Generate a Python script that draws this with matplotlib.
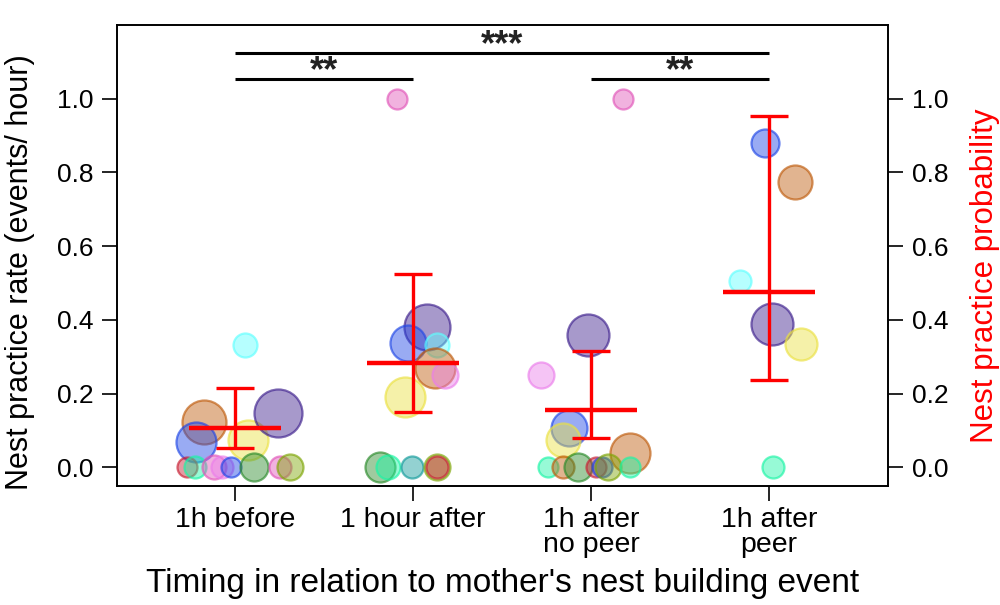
import numpy as np
import matplotlib.pyplot as plt
from matplotlib.colors import to_rgba

plt.rcParams['font.family'] = ['Liberation Sans', 'DejaVu Sans']

categories = ["1h before", "1 hour after", "1h after\nno peer", "1h after\npeer"]

# one colour per animal
animal_color = {
    "red": "#C81E32", "aqua": "#19F5A5", "cyan": "#5FFFFF", "teal": "#109A9A",
    "blue": "#1E46E6", "purple": "#3C1E8C", "orange": "#BE5A0A",
    "yellow": "#EBE141", "green": "#2A8A2A", "ygreen": "#7DA505",
    "pink": "#E155B9", "violet": "#EB7DEB",
}

# group 1: 1h before
g1_animal = ["cyan", "orange", "blue", "yellow", "purple", "red", "aqua",
             "pink", "violet", "blue", "green", "pink", "ygreen"]
g1_jitter = [0.056, -0.174, -0.219, 0.073, 0.242, -0.27, -0.225,
             -0.118, -0.073, -0.022, 0.107, 0.253, 0.309]
g1_rate = [0.331, 0.123, 0.069, 0.074, 0.147, 0, 0, 0, 0, 0, 0, 0, 0]
g1_size = [12, 22, 20, 20, 24, 10, 11, 12, 11, 10, 14, 11, 13]

# group 2: 1 hour after
g2_animal = ["purple", "blue", "cyan", "orange", "violet", "yellow", "pink",
             "green", "aqua", "teal", "ygreen", "red"]
g2_jitter = [0.079, -0.028, 0.135, 0.124, 0.18, -0.045, -0.09,
             -0.185, -0.14, -0.006, 0.135, 0.135]
g2_rate = [0.380, 0.337, 0.331, 0.269, 0.25, 0.19, 1.0, 0, 0, 0, 0, 0]
g2_size = [23, 18, 12, 20, 13, 20, 10, 15, 12, 11, 13, 11]

# group 3: 1h after, no peer
g3_animal = ["purple", "violet", "pink", "blue", "yellow", "orange", "aqua",
             "orange", "green", "red", "blue", "ygreen", "aqua"]
g3_jitter = [-0.017, -0.281, 0.18, -0.124, -0.157, 0.219, -0.242,
             -0.157, -0.073, 0.028, 0.062, 0.096, 0.219]
g3_rate = [0.359, 0.25, 1.0, 0.107, 0.074, 0.039, 0, 0, 0, 0, 0, 0, 0]
g3_size = [21, 13, 10, 18, 17, 20, 10, 11, 14, 10, 10, 13, 10]

# group 4: 1h after, peer
g4_animal = ["blue", "orange", "cyan", "purple", "yellow", "aqua"]
g4_jitter = [-0.022, 0.146, -0.163, 0.017, 0.18, 0.022]
g4_rate = [0.879, 0.773, 0.505, 0.388, 0.334, 0]
g4_size = [14, 17, 11, 21, 16, 11]

# model estimate of probability with CI
prob_mean = [0.1065, 0.283, 0.155, 0.475]
prob_lo = [0.052, 0.149, 0.079, 0.237]
prob_hi = [0.215, 0.524, 0.316, 0.952]

# significance brackets
sig_from = [1, 3, 1]
sig_to = [2, 4, 4]
sig_y = [1.052, 1.052, 1.123]
sig_text = ["**", "**", "***"]

fig = plt.figure(figsize=(10, 6.05), dpi=100)
ax = fig.add_axes([0.117, 0.197, 0.771, 0.762])

groups = [(g1_animal, g1_jitter, g1_rate, g1_size),
          (g2_animal, g2_jitter, g2_rate, g2_size),
          (g3_animal, g3_jitter, g3_rate, g3_size),
          (g4_animal, g4_jitter, g4_rate, g4_size)]

for i, (animals, jit, rate, size) in enumerate(groups):
    xpos = i + 1 + np.array(jit)
    for a, xx, yy, r in zip(animals, xpos, rate, size):
        c = animal_color[a]
        ax.scatter(xx, yy, s=(1.44 * r) ** 2, facecolor=to_rgba(c, 0.45),
                   edgecolor=to_rgba(c, 0.65), linewidth=1.6, zorder=2)

ax2 = ax.twinx()
xs = np.arange(1, 5)
ax2.vlines(xs, prob_lo, prob_hi, color="red", lw=2.4)
ax2.hlines(prob_lo, xs - 0.105, xs + 0.105, color="red", lw=2.4)
ax2.hlines(prob_hi, xs - 0.105, xs + 0.105, color="red", lw=2.4)
ax2.hlines(prob_mean, xs - 0.26, xs + 0.26, color="red", lw=3.2)

for a, b, h, t in zip(sig_from, sig_to, sig_y, sig_text):
    ax.plot([a, b], [h, h], color="black", lw=2.2, solid_capstyle="butt")
    ax.text((a + b) / 2, h - 0.006, t, ha="center", va="baseline",
            fontsize=26, fontweight="bold", color="#222222")

for a_ in (ax, ax2):
    a_.set_ylim(-0.05, 1.2)
    a_.set_yticks([0, 0.2, 0.4, 0.6, 0.8, 1.0])
    a_.set_yticklabels(["0.0", "0.2", "0.4", "0.6", "0.8", "1.0"])
    a_.tick_params(axis="y", direction="out", length=11, width=1.2,
                   labelsize=19, pad=6)
    for sp in a_.spines.values():
        sp.set_linewidth(1.2)
ax.set_xlim(0.337, 4.669)
ax.set_xticks(xs)
ax.set_xticklabels(categories, fontsize=20.5, linespacing=0.95)
ax.tick_params(axis="x", direction="out", length=11, width=1.2, pad=4)

ax.set_xlabel("Timing in relation to mother's nest building event", fontsize=24)
ax.xaxis.set_label_coords(0.5, -0.178)
fig.text(0.020, 0.55, "Nest practice rate (events/ hour)", rotation=90,
         ha="center", va="center", fontsize=22)
fig.text(0.985, 0.545, "Nest practice probability", rotation=90,
         ha="center", va="center", fontsize=22.5, color="red")

fig.savefig("out.png", dpi=100)
